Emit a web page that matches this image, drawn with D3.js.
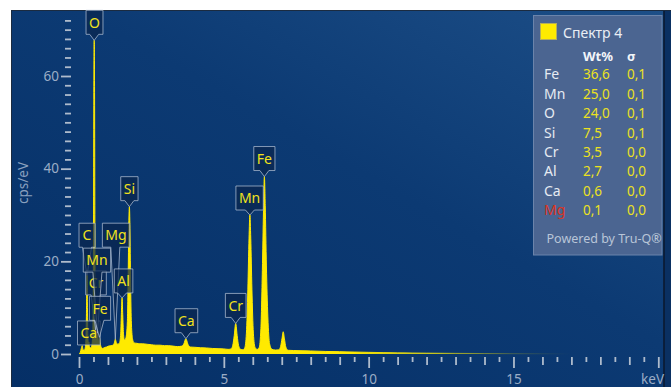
<!DOCTYPE html>
<html><head><meta charset="utf-8">
<script src="https://cdn.jsdelivr.net/npm/d3@7"></script>
<style>
html,body{margin:0;padding:0;background:#fff;}
svg{display:block;font-family:"Noto Sans","Open Sans",sans-serif;}
</style></head><body>
<svg id="chart" width="671" height="387"></svg>
<script>
// Spectrum samples: energy (keV) and intensity (cps/eV)
const energyKeV = [
  0.00,0.04,0.08,0.11,0.14,0.18,0.22,0.25,0.265,0.277,0.29,0.305,0.33,0.341,0.36,0.40,0.44,
  0.48,0.50,0.512,0.525,0.538,0.55,0.562,0.573,0.59,0.61,0.637,0.66,0.68,0.705,0.73,0.77,
  0.82,0.88,0.95,1.02,1.10,1.17,1.22,1.254,1.29,1.34,1.40,1.44,1.465,1.487,1.51,1.535,1.57,
  1.62,1.67,1.70,1.72,1.740,1.76,1.78,1.81,1.85,1.90,2.00,2.10,2.20,2.35,2.50,2.65,2.80,
  2.95,3.10,3.25,3.40,3.55,3.62,3.69,3.76,3.85,4.00,4.20,4.40,4.60,4.80,5.00,5.15,5.25,
  5.31,5.36,5.41,5.46,5.51,5.58,5.66,5.72,5.78,5.83,5.87,5.90,5.93,5.97,6.02,6.08,6.15,
  6.22,6.28,6.33,6.37,6.40,6.43,6.47,6.52,6.58,6.66,6.78,6.90,6.96,7.01,7.05,7.09,7.14,
  7.22,7.40,7.70,8.00,8.50,9.00,9.50,10.0,10.5,11.0,11.5,12.0,13.0,14.0,15.0,16.0,17.0,18.0
];
const countsCpsEv = [
  0.0,0.3,1.2,1.8,0.9,0.8,1.5,6.0,12.0,17.0,11.0,4.0,2.2,2.6,1.6,1.3,1.8,
  5.0,25.0,55.0,67.7,55.0,25.0,7.0,5.2,3.6,3.2,4.5,3.0,2.8,3.6,2.4,1.4,
  1.2,1.4,1.5,1.7,1.8,1.9,2.4,3.2,2.4,2.1,2.4,4.5,9.0,12.1,8.5,4.5,3.0,
  3.5,7.0,18.0,28.0,31.8,27.0,16.0,6.5,3.2,2.4,2.3,2.2,2.2,2.1,2.0,1.9,1.9,
  1.8,1.8,1.7,1.6,1.7,2.2,3.3,2.1,1.5,1.45,1.35,1.3,1.2,1.15,1.1,1.0,1.1,
  1.9,4.0,6.6,4.0,1.8,1.0,0.9,1.3,4.5,14.0,25.0,30.0,25.0,14.0,4.5,1.4,1.0,
  1.4,5.5,18.0,31.0,38.3,32.0,19.0,8.0,2.2,1.0,0.85,0.9,1.6,3.4,4.8,3.4,1.5,
  0.8,0.75,0.7,0.65,0.55,0.5,0.42,0.36,0.3,0.25,0.22,0.19,0.14,0.1,0.07,0.04,0.02,0.0
];

// Identified lines marked on the spectrum
const lineElements = ["O","C","Ca","Cr","Mn","Fe","Mg","Al","Si","Ca","Cr","Mn","Fe"];
const lineEnergies = [0.525,0.277,0.341,0.573,0.637,0.705,1.254,1.487,1.740,3.69,5.41,5.90,6.40];

// Quantification table
const spectrumName = "Спектр 4";
const quantElements = ["Fe","Mn","O","Si","Cr","Al","Ca","Mg"];
const quantWt = [36.6,25.0,24.0,7.5,3.5,2.7,0.6,0.1];
const quantSigma = [0.1,0.1,0.1,0.1,0.0,0.0,0.0,0.0];
const lowConfidence = ["Mg"];

// Axis ticks
const yMajorTicks = [0,20,40,60];
const xMajorTicks = [0,5,10,15];
const xUnit = "keV";
const yUnit = "cps/eV";

// Callout placement (box offset above the peak tip, in px) per marked line
const calloutLift = [6,28,-3,35,61,17,92,5,6,6,6,5,6];
const calloutShift = [0.3,0,0,0.4,-0.5,0.6,0.7,1.5,0,0.5,0,-0.3,0];

const svg = d3.select("#chart");
const defs = svg.append("defs");

const x = d3.scaleLinear().domain([0,20]).range([79,658.3]);
const y = d3.scaleLinear().domain([0,60]).range([354,76]);

// Panel background
const bg = defs.append("linearGradient").attr("id","panelGrad")
  .attr("x1","0").attr("y1","1").attr("x2","1").attr("y2","0");
bg.append("stop").attr("offset","0").attr("stop-color","#052f66");
bg.append("stop").attr("offset","0.55").attr("stop-color","#0c3a73");
bg.append("stop").attr("offset","1").attr("stop-color","#1d4f88");

svg.append("rect").attr("x",12).attr("y",10).attr("width",659).attr("height",377)
  .attr("fill","url(#panelGrad)");
svg.append("line").attr("x1",11.5).attr("x2",11.5).attr("y1",10).attr("y2",387)
  .attr("stroke","#1b2b40").attr("stroke-width",1);
svg.append("line").attr("x1",11).attr("x2",671).attr("y1",10.5).attr("y2",10.5)
  .attr("stroke","#1b2b40").attr("stroke-width",1);
svg.append("rect").attr("x",664).attr("y",11).attr("width",7).attr("height",376)
  .attr("fill","#0a3062");
svg.append("line").attr("x1",664).attr("x2",664).attr("y1",11).attr("y2",387)
  .attr("stroke","#0b1a30").attr("stroke-width",1.6);

// Spectrum fill fades out at high energy
const fade = defs.append("linearGradient").attr("id","specFade")
  .attr("gradientUnits","userSpaceOnUse")
  .attr("x1",x(9.5)).attr("x2",x(17)).attr("y1",0).attr("y2",0);
fade.append("stop").attr("offset","0").attr("stop-color","#ffea00").attr("stop-opacity",1);
fade.append("stop").attr("offset","0.35").attr("stop-color","#e6dc10").attr("stop-opacity",0.75);
fade.append("stop").attr("offset","1").attr("stop-color","#6f7a30").attr("stop-opacity",0);

const spectrum = energyKeV.map((e,i)=>({e, c: countsCpsEv[i]}));

const area = d3.area().x(d=>x(d.e)).y0(y(0)).y1(d=>y(d.c)).curve(d3.curveMonotoneX);
const line = d3.line().x(d=>x(d.e)).y(d=>y(d.c)).curve(d3.curveMonotoneX);

svg.append("path").datum(spectrum).attr("d",area).attr("fill","url(#specFade)");
svg.append("path").datum(spectrum).attr("d",line).attr("fill","none")
  .attr("stroke","url(#specFade)").attr("stroke-width",1);

// Y axis
const tickColor = "#aebbcc";
const labelColor = "#9badc6";
const yAxis = svg.append("g").attr("transform","translate(71,0)")
  .call(d3.axisLeft(y).tickValues(d3.range(0,73,2)).tickSize(6)
    .tickFormat(d => yMajorTicks.includes(d) ? d : ""));
yAxis.select(".domain").remove();
yAxis.selectAll(".tick line").attr("stroke",tickColor).attr("stroke-width",1.8)
  .attr("x2",d => yMajorTicks.includes(d) ? -10 : -6);
yAxis.selectAll(".tick text").attr("x",-12).attr("fill",labelColor)
  .style("font-size","13.5px").style("font-family","'Noto Sans',sans-serif");

svg.append("text").attr("transform","translate(28,183) rotate(-90)")
  .attr("text-anchor","middle").attr("fill","#8aa0bf").style("font-size","13.5px")
  .text(yUnit);

// X axis
const xAxis = svg.append("g").attr("transform","translate(0,357)")
  .call(d3.axisBottom(x).tickValues(d3.range(0,20.01,0.5)).tickSize(5)
    .tickFormat(d => xMajorTicks.includes(d) ? d : ""));
xAxis.select(".domain").remove();
xAxis.selectAll(".tick line").attr("stroke",tickColor).attr("stroke-width",1.8)
  .attr("y2",d => (d % 5 === 0) ? 11 : (d % 1 === 0 ? 8 : 5));
xAxis.selectAll(".tick text").attr("y",17.5).attr("fill",labelColor)
  .style("font-size","13.5px").style("font-family","'Noto Sans',sans-serif");
svg.append("text").attr("x",664).attr("y",384).attr("text-anchor","end")
  .attr("fill",labelColor).style("font-size","13.5px").text(xUnit);

// Peak callouts
const peakValue = e => countsCpsEv[energyKeV.indexOf(e)];
const callouts = svg.append("g");
lineElements.forEach((el,i) => {
  const tx = x(lineEnergies[i]);
  const ty = y(peakValue(lineEnergies[i]));
  const lift = calloutLift[i];
  const cx = tx + calloutShift[i];
  const boxH = 24;
  const bottom = ty - lift;
  const top = bottom - boxH;
  const g = callouts.append("g");
  const path = g.append("path");
  const t = g.append("text").attr("x",cx).attr("y",top+17.2).attr("text-anchor","middle")
    .attr("fill","#f1e21c").style("font-size","14px").text(el);
  const w = Math.max(16, t.node().getComputedTextLength() + 6);
  const l = cx - w/2, r = cx + w/2;
  let d;
  if (lift > 2) {
    const nx = Math.min(Math.max(tx, l+6), r-6);
    d = `M${l},${top}H${r}V${bottom}H${nx+4.5}L${tx},${ty}L${nx-4.5},${bottom}H${l}Z`;
  } else {
    d = `M${l},${top}H${r}V${bottom}H${l}Z`;
  }
  path.attr("d",d).attr("fill","rgba(10,38,78,0.72)")
    .attr("stroke","rgba(175,190,210,0.75)").attr("stroke-width",1);
  t.raise();
});

// Quantification legend
const lg = svg.append("g");
lg.append("rect").attr("x",533.5).attr("y",15.5).attr("width",128.5).attr("height",239.5)
  .attr("fill","#4b6591").attr("stroke","#6b84ab").attr("stroke-width",1);
lg.append("rect").attr("x",540.5).attr("y",23.5).attr("width",16).attr("height",16)
  .attr("fill","#ffea00").attr("stroke","#b4ad5a").attr("stroke-width",1);
lg.append("text").attr("x",563).attr("y",37.5).attr("fill","#e9eef5")
  .style("font-size","14px").text(spectrumName);
lg.append("text").attr("x",583).attr("y",60.5).attr("fill","#f2f5f9")
  .style("font-size","13px").style("font-weight","bold").text("Wt%");
lg.append("text").attr("x",627).attr("y",60.5).attr("fill","#f2f5f9")
  .style("font-size","13px").style("font-weight","bold").text("σ");
const fmt = v => d3.format(".1f")(v).replace(".",",");
quantElements.forEach((el,i) => {
  const by = 79.3 + i*19.4;
  lg.append("text").attr("x",544).attr("y",by)
    .attr("fill", lowConfidence.includes(el) ? "#dc3320" : "#e6ebf2")
    .style("font-size","14px").text(el);
  lg.append("text").attr("x",583).attr("y",by).attr("fill","#ece21e")
    .style("font-size","13.5px").text(fmt(quantWt[i]));
  lg.append("text").attr("x",627).attr("y",by).attr("fill","#ece21e")
    .style("font-size","13.5px").text(fmt(quantSigma[i]));
});
lg.append("text").attr("x",546.5).attr("y",243).attr("fill","#b9c6d8")
  .style("font-size","12.5px").text("Powered by Tru-Q®");
</script>
</body></html>
